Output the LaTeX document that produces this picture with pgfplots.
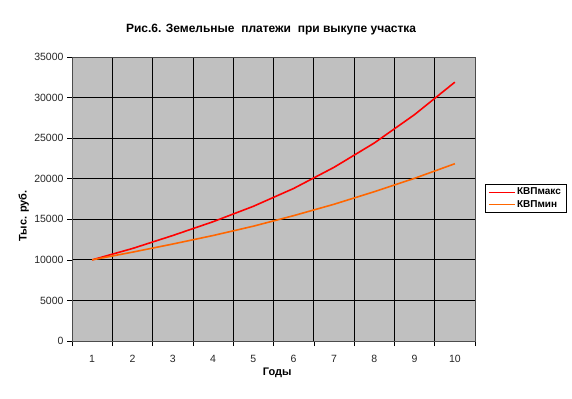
\documentclass[border=0pt]{standalone}
\usepackage{fontspec}
\setmainfont{Liberation Sans}
\usepackage{pgfplots}
\pgfplotsset{compat=1.18}
\definecolor{plotbg}{RGB}{192,192,192}
\definecolor{maxc}{RGB}{255,0,0}
\definecolor{minc}{RGB}{255,102,0}
\pgfplotstableread{
x maxv minv
1 10000 10000
2 11400 10950
3 13000 11950
4 14700 13000
5 16600 14150
6 18800 15450
7 21400 16850
8 24400 18400
9 27900 20050
10 31900 21850
}\datatable
\begin{document}
\begin{tikzpicture}[x=1bp,y=1bp]
\path[use as bounding box] (0,0) rectangle (572,398);
\begin{axis}[
  at={(72bp,57bp)}, anchor=south west,
  scale only axis, width=403bp, height=284bp,
  xmin=0.5, xmax=10.5, ymin=0, ymax=35000,
  axis background/.style={fill=plotbg},
  axis line style={draw=black!70, line width=0.8pt},
  xtick={1,...,10},
  minor xtick={0.5,1.5,...,10.5},
  ytick={0,5000,...,35000},
  xtick pos=bottom, ytick pos=left,
  major x tick style={draw=none},
  tick align=outside,
  major tick length=5bp, minor tick length=5bp,
  every tick/.style={black, line width=0.6pt},
  minor x tick style={black, line width=0.6pt},
  xminorgrids=true, ymajorgrids=true, xmajorgrids=false,
  grid style={black, line width=0.8pt},
  minor grid style={black, line width=0.8pt},
  /pgf/number format/assume math mode=true,
  /pgf/number format/1000 sep={},
  scaled y ticks=false,
  tick label style={font=\fontsize{10.5bp}{12bp}\selectfont, text=black!85},
  xticklabel style={yshift=-6bp},
  title={Рис.6. Земельные\ \ платежи\ \ при выкупе участка},
  title style={font=\fontsize{12bp}{14bp}\selectfont\bfseries, at={(axis description cs:0.494,1.075)}, anchor=center},
  xlabel={Годы},
  xlabel style={font=\fontsize{11bp}{13bp}\selectfont\bfseries, at={(axis description cs:0.509,-0.113)}, anchor=center},
  ylabel={Тыс. руб.},
  ylabel style={font=\fontsize{11bp}{13bp}\selectfont\bfseries, at={(axis description cs:-0.12,0.44)}, anchor=center, rotate=0},
  legend style={at={(axis description cs:1.0248,0.503)}, anchor=west,
    font=\fontsize{10bp}{12bp}\selectfont\bfseries},
  legend cell align=left,
  legend image code/.code={\draw[#1, line width=0.9pt] (0bp,0bp) -- (26bp,0bp);},
]
\addplot[draw=maxc, line width=1.6pt] table[x=x, y=maxv] {\datatable};
\addlegendentry{КВПмакс}
\addplot[draw=minc, line width=1.6pt] table[x=x, y=minv] {\datatable};
\addlegendentry{КВПмин}
\end{axis}
\end{tikzpicture}
\end{document}
